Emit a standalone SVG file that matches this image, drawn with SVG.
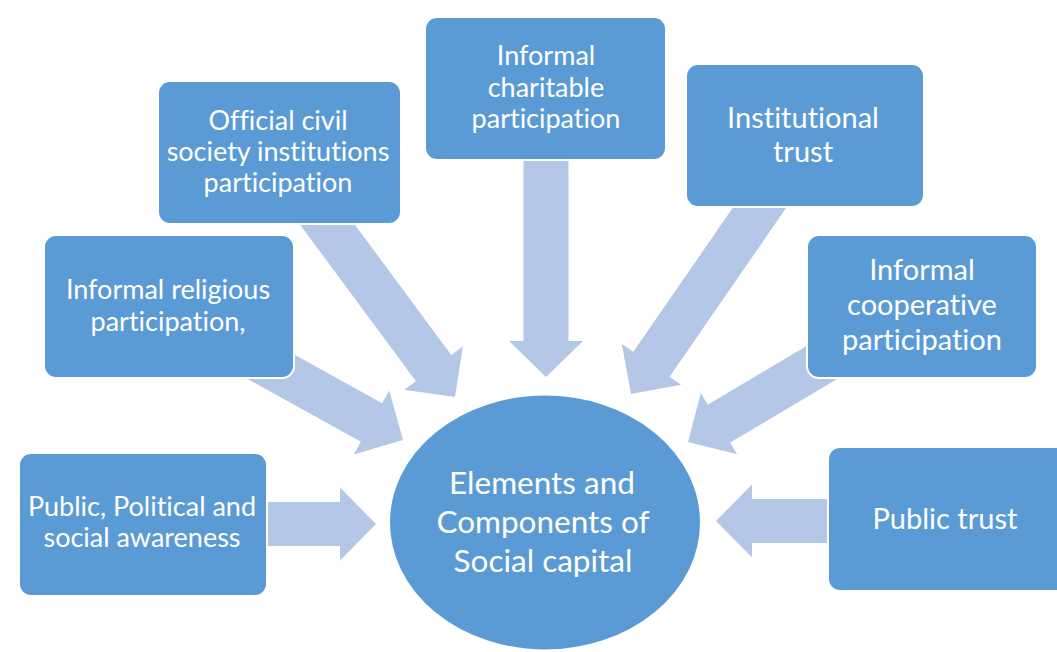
<svg xmlns="http://www.w3.org/2000/svg" width="1057" height="652" viewBox="0 0 1057 652">
  <style>
    .box { fill: #5B9BD5; stroke: #FFFFFF; stroke-width: 2; }
    .arrow { fill: #B4C7E7; }
    .lbl { fill: #FFFFFF; font-family: Lato, "Liberation Sans", sans-serif; text-anchor: middle;
           font-variant-ligatures: none; font-feature-settings: "liga" 0, "clig" 0; }
    .s27 { font-size: 27px; }
    .s29 { font-size: 29px; }
    .s32 { font-size: 31.5px; }
  </style>
  <rect width="1057" height="652" fill="#FFFFFF"/>

  <!-- block arrows pointing at the centre ellipse (tip at local origin, pointing +x) -->
  <g id="connectors">
    <polygon class="arrow" transform="translate(376,524)" points="0,0 -36,36.5 -36,22 -114,22 -114,-22 -36,-22 -36,-36.5"/>
    <polygon class="arrow" transform="translate(403,440) rotate(29)" points="0,0 -36,36.5 -36,22 -190,22 -190,-22 -36,-22 -36,-36.5"/>
    <polygon class="arrow" transform="translate(455,397) rotate(53.5)" points="0,0 -36,36.5 -36,22 -240,22 -240,-22 -36,-22 -36,-36.5"/>
    <polygon class="arrow" transform="translate(546,377) rotate(90)" points="0,0 -36,37 -36,22.5 -222,22.5 -222,-22.5 -36,-22.5 -36,-37"/>
    <polygon class="arrow" transform="translate(631,394) rotate(124.6)" points="0,0 -36,36 -36,22 -250,22 -250,-22 -36,-22 -36,-36"/>
    <polygon class="arrow" transform="translate(688,442) rotate(149.3)" points="0,0 -36,35.5 -36,22 -175,22 -175,-22 -36,-22 -36,-35.5"/>
    <polygon class="arrow" transform="translate(716,521) rotate(180)" points="0,0 -36,36.5 -36,22 -120,22 -120,-22 -36,-22 -36,-36.5"/>
  </g>

  <g id="node-awareness">
    <rect class="box" x="19" y="453" width="248" height="143" rx="12"/>
    <text class="lbl s27" x="142" y="516">Public, Political and</text>
    <text class="lbl s27" x="142" y="547">social awareness</text>
  </g>

  <g id="node-religious">
    <rect class="box" x="44" y="235" width="250" height="143" rx="12"/>
    <text class="lbl s27" x="168" y="299">Informal religious</text>
    <text class="lbl s27" x="168" y="331">participation,</text>
  </g>

  <g id="node-civil-society">
    <rect class="box" x="158" y="81" width="243" height="143" rx="12"/>
    <text class="lbl s27" x="278" y="130">Official civil</text>
    <text class="lbl s27" x="278" y="161">society institutions</text>
    <text class="lbl s27" x="278" y="192">participation</text>
  </g>

  <g id="node-charitable">
    <rect class="box" x="425" y="17" width="241" height="143" rx="12"/>
    <text class="lbl s27" x="546" y="65">Informal</text>
    <text class="lbl s27" x="546" y="97">charitable</text>
    <text class="lbl s27" x="546" y="128">participation</text>
  </g>

  <g id="node-institutional-trust">
    <rect class="box" x="686" y="64" width="238" height="143" rx="12"/>
    <text class="lbl s29" x="803" y="128">Institutional</text>
    <text class="lbl s29" x="803" y="162">trust</text>
  </g>

  <g id="node-cooperative">
    <rect class="box" x="807" y="235" width="230" height="143" rx="12"/>
    <text class="lbl s29" x="922" y="280">Informal</text>
    <text class="lbl s29" x="922" y="315">cooperative</text>
    <text class="lbl s29" x="922" y="350">participation</text>
  </g>

  <g id="node-public-trust">
    <rect class="box" x="828" y="447" width="240" height="144" rx="12"/>
    <text class="lbl s29" x="945" y="529">Public trust</text>
  </g>

  <g id="node-social-capital">
    <ellipse class="box" cx="545" cy="522.5" rx="156" ry="128"/>
    <text class="lbl s32" x="542" y="494">Elements and</text>
    <text class="lbl s32" x="543" y="533">Components of</text>
    <text class="lbl s32" x="543" y="572">Social capital</text>
  </g>
</svg>
